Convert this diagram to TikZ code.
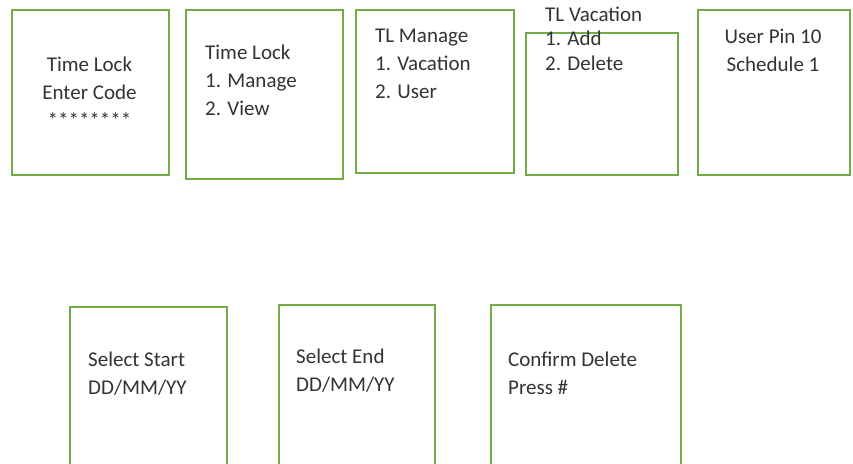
\documentclass[tikz,border=0pt]{standalone}
\usepackage{fontspec}
\setmainfont{Carlito}
\usetikzlibrary{positioning}
\definecolor{screengreen}{RGB}{112,173,71}

\begin{document}
\begin{tikzpicture}[x=1pt, y=-1pt,
    screen/.style={draw=screengreen, line width=2pt, fill=white, rectangle, inner sep=0pt, anchor=north west},
    txt/.style={inner sep=0pt, align=left, anchor=base west, text=black!80, font=\fontsize{21}{28}\selectfont}
]
\useasboundingbox (0,0) rectangle (853,463);

% Top row of screens
\node [screen, minimum width=157pt, minimum height=165pt] (lock) at (11,9) {};
\node [screen, minimum width=157pt, minimum height=169pt] (menu) at (185,9) {};
\node [screen, minimum width=158pt, minimum height=163pt] (manage) at (355,9) {};
\node [screen, minimum width=152pt, minimum height=142pt] (vacation) at (525,32) {};
\node [screen, minimum width=152pt, minimum height=165pt] (user) at (697,9) {};

% Bottom row of screens (cut at the lower edge)
\node [screen, minimum width=157pt, minimum height=180pt] (start) at (69,306) {};
\node [screen, minimum width=156pt, minimum height=180pt] (end) at (278,304) {};
\node [screen, minimum width=190pt, minimum height=180pt] (confirm) at (490,304) {};

% Texts (base = baseline of the last line)
\node [txt, align=center, anchor=base] (locktxt) at (89.5,127) {Time Lock\\Enter Code\\********};
\node [txt] (menutxt) at (205,115) {Time Lock\\1. Manage\\2. View};
\node [txt] (managetxt) at (375,98) {TL Manage\\1. Vacation\\2. User};
\node [txt, font=\fontsize{21}{24.5}\selectfont] (vacationtxt) at (545,70) {TL Vacation\\1. Add\\2. Delete};
\node [txt, align=center, anchor=base] (usertxt) at (773,71) {User Pin 10\\Schedule 1};
\node [txt] (starttxt) at (88,394) {Select Start\\DD/MM/YY};
\node [txt] (endtxt) at (296,391) {Select End\\DD/MM/YY};
\node [txt] (confirmtxt) at (508,394) {Confirm Delete\\Press \#};

\end{tikzpicture}
\end{document}
